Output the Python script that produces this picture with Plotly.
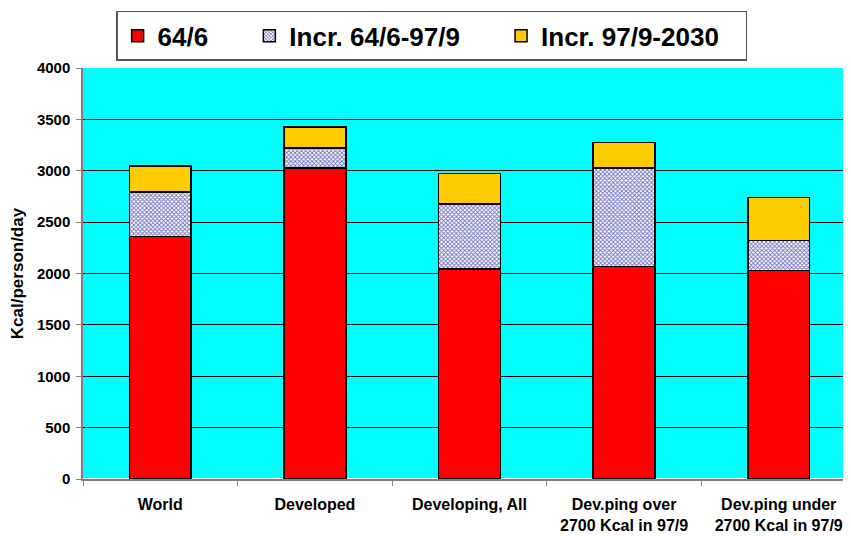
import plotly.graph_objects as go

# categories and stacked values (Kcal/person/day)
regions = ["World", "Developed", "Developing, All",
           "Dev.ping over<br>2700 Kcal in 97/9", "Dev.ping under<br>2700 Kcal in 97/9"]
base_64_6 = [2360, 3025, 2045, 2070, 2030]
incr_64_97 = [435, 195, 630, 955, 290]
incr_97_2030 = [250, 205, 300, 250, 420]

font = "Arial, Liberation Sans, sans-serif"
outline = dict(color="black", width=1.5)
pad = "\u00a0" * 5  # widens the gaps between legend entries

fig = go.Figure()
fig.add_trace(go.Bar(x=regions, y=base_64_6, name="64/6" + pad,
                     marker=dict(color="#FF0000", line=outline)))
fig.add_trace(go.Bar(x=regions, y=incr_64_97, name="Incr. 64/6-97/9" + pad,
                     marker=dict(color="white", line=outline,
                                 pattern=dict(shape="x", size=3, solidity=0.5,
                                              fgcolor="#7070C0", bgcolor="white",
                                              fillmode="replace"))))
fig.add_trace(go.Bar(x=regions, y=incr_97_2030, name="Incr. 97/9-2030" + "\u00a0" * 3,
                     marker=dict(color="#FFCC00", line=outline)))

# page body has an 8px margin, so margins are shifted accordingly
fig.update_layout(
    width=851, height=536,
    barmode="stack", bargap=0.6,
    paper_bgcolor="white", plot_bgcolor="#00FFFF",
    margin=dict(l=75, r=3, t=60, b=65),
    font=dict(family=font, color="black"),
    legend=dict(orientation="h", x=0.451, xanchor="center", y=1.139, yanchor="top",
                font=dict(size=26, family=font, weight="bold"),
                bordercolor="#555555", borderwidth=1.5, bgcolor="white",
                traceorder="normal"),
    yaxis=dict(range=[0, 4000], dtick=500, showgrid=True, gridcolor="black", gridwidth=1,
               ticks="outside", ticklen=5, tickcolor="#808080", showline=True,
               linecolor="#808080", linewidth=1.5, automargin=False,
               tickfont=dict(size=15, weight="bold"), ticklabelstandoff=3,
               title=dict(text="Kcal/person/day", font=dict(size=17, weight="bold"),
                          standoff=10)),
    xaxis=dict(ticks="outside", tickson="boundaries", ticklen=5, tickcolor="#808080",
               showline=True, linecolor="#808080", linewidth=1.5, automargin=False,
               tickfont=dict(size=16, weight="bold"), ticklabelstandoff=10),
)

fig.write_html("out.html")
